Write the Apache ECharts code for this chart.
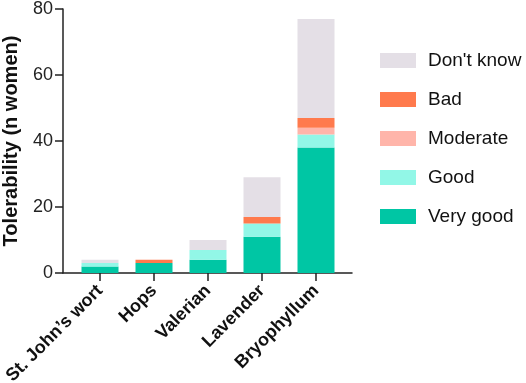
<!DOCTYPE html>
<html>
<head>
<meta charset="utf-8">
<script src="https://cdn.jsdelivr.net/npm/echarts@6/dist/echarts.min.js"></script>
<style>
  html, body { margin: 0; padding: 0; background: #fff; }
  #main { width: 526px; height: 383px; }
</style>
</head>
<body>
<div id="main"></div>
<script>
// 数据
var herbs = ["St. John\u2019s wort", "Hops", "Valerian", "Lavender", "Bryophyllum"];
var veryGood = [2, 3, 4, 11, 38];
var good = [1, 0, 3, 4, 4];
var moderate = [0, 0, 0, 0, 2];
var bad = [0, 1, 0, 2, 3];
var dontKnow = [1, 0, 3, 12, 30];
var yTicks = [0, 20, 40, 60, 80];

var font = "'Liberation Sans', Arial, Helvetica, sans-serif";
var axisColor = '#222';

function barSeries(name, data, color) {
  return {
    name: name,
    type: 'bar',
    stack: 'total',
    xAxisIndex: 0,
    yAxisIndex: 0,
    barWidth: 37,
    data: data,
    itemStyle: { color: color }
  };
}

var chart = echarts.init(document.getElementById('main'), null, { renderer: 'canvas' });

var option = {
  animation: false,
  textStyle: { fontFamily: font },
  grid: [
    // 柱子所在的网格
    { left: 73, top: 9, width: 270, bottom: 110, outerBoundsMode: 'none', containLabel: false },
    // 只用来画完整的 x 轴线
    { left: 63, top: 9, width: 289, bottom: 110, outerBoundsMode: 'none', containLabel: false }
  ],
  legend: {
    orient: 'vertical',
    left: 375,
    top: 46,
    itemWidth: 36,
    itemHeight: 15,
    itemGap: 20,
    icon: 'rect',
    data: ["Don't know", 'Bad', 'Moderate', 'Good', 'Very good'],
    textStyle: {
      fontFamily: font,
      fontSize: 19,
      lineHeight: 19,
      color: '#111',
      padding: [0, 0, 0, 7]
    }
  },
  xAxis: [{
    type: 'category',
    gridIndex: 0,
    data: herbs,
    axisLine: { show: false },
    axisTick: { show: true, alignWithLabel: true, length: 8, lineStyle: { color: axisColor, width: 1.5 } },
    axisLabel: {
      interval: 0,
      rotate: 45,
      margin: 15,
      fontFamily: font,
      fontWeight: 'bold',
      fontSize: 18,
      color: '#111'
    }
  }, {
    type: 'value',
    gridIndex: 1,
    min: 0,
    max: 1,
    axisLine: { show: true, lineStyle: { color: axisColor, width: 1.5 } },
    axisTick: { show: false },
    axisLabel: { show: false },
    splitLine: { show: false }
  }],
  yAxis: [{
    type: 'value',
    gridIndex: 0,
    min: yTicks[0],
    max: yTicks[yTicks.length - 1],
    interval: 20,
    offset: 10,
    name: 'Tolerability (n women)',
    nameLocation: 'middle',
    nameGap: 42,
    nameTextStyle: {
      fontFamily: font,
      fontWeight: 'bold',
      fontSize: 20,
      color: '#111'
    },
    axisLine: { show: true, lineStyle: { color: axisColor, width: 1.5 } },
    axisTick: { show: true, length: 8, lineStyle: { color: axisColor, width: 1.5 } },
    axisLabel: { margin: 10, fontFamily: font, fontSize: 18, color: '#222' },
    splitLine: { show: false }
  }, {
    type: 'value',
    gridIndex: 1,
    show: false
  }],
  series: [
    barSeries('Very good', veryGood, '#00C6A4'),
    barSeries('Good', good, '#92F7E7'),
    barSeries('Moderate', moderate, '#FFB5AA'),
    barSeries('Bad', bad, '#FF7A4D'),
    barSeries("Don't know", dontKnow, '#E4DFE6')
  ]
};

chart.setOption(option);
</script>
</body>
</html>
